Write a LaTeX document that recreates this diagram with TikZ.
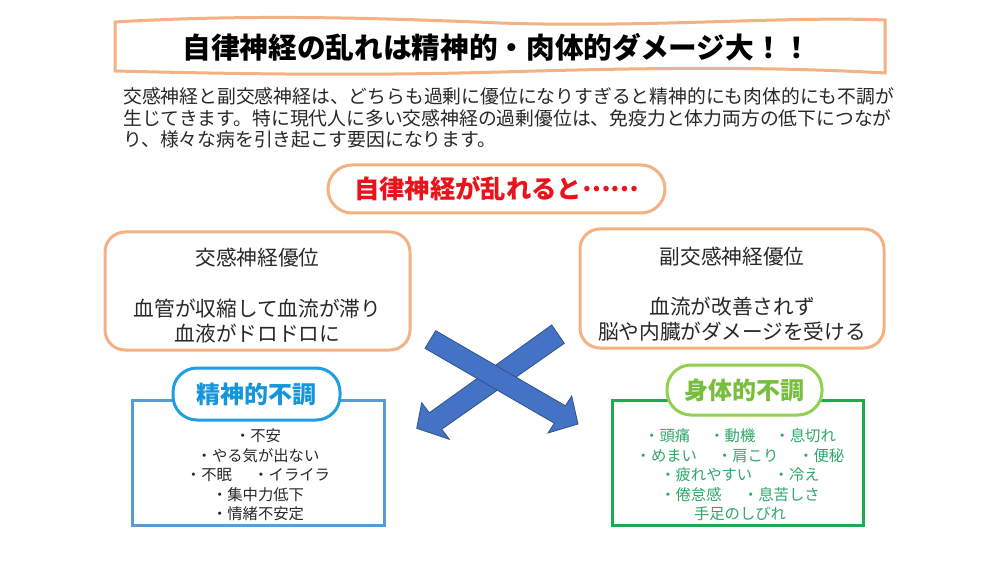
\documentclass[tikz,border=0pt]{standalone}
\usepackage{fontspec}
\setmainfont{Noto Sans CJK JP}
\usetikzlibrary{calc}
\definecolor{orangec}{RGB}{244,177,131}
\definecolor{arrowfill}{RGB}{68,114,196}
\definecolor{arrowline}{RGB}{47,82,143}
\definecolor{bluerect}{RGB}{91,155,213}
\definecolor{bluepill}{RGB}{29,160,226}
\definecolor{bluetext}{RGB}{20,150,220}
\definecolor{greenrect}{RGB}{30,170,80}
\definecolor{greenpill}{RGB}{146,208,80}
\definecolor{greenhead}{RGB}{120,190,60}
\definecolor{greentext}{RGB}{46,168,106}
\definecolor{redtext}{RGB}{232,20,27}
\definecolor{bodytext}{RGB}{40,40,40}
\begin{document}
\begin{tikzpicture}[x=0.75pt,y=-0.75pt,
  orangebox/.style={draw=orangec, line width=2.25pt, fill=white, rounded corners=15pt, align=center, inner sep=0pt},
  pill/.style={line width=2.25pt, fill=white, rounded corners=18pt, inner sep=0pt, font=\fontsize{18}{22}\selectfont\bfseries},
  listbox/.style={line width=2.25pt, fill=white, inner sep=0pt},
  bodyline/.style={anchor=base west, inner sep=0pt, text=bodytext, font=\fontsize{14.1}{16}\selectfont},
  itemtext/.style={align=center, inner sep=0pt, font=\fontsize{11.5}{14.6}\selectfont},
  bigarrow/.style={fill=arrowfill, draw=arrowline, line width=0.6pt, line join=miter}
]
\useasboundingbox (0,0) rectangle (1000,563);
\fill[white] (0,0) rectangle (1000,563);

% title banner
\draw[draw=orangec, line width=2.25pt, fill=white]
  (115,22) .. controls (250,14) and (380,18) .. (500,23)
  .. controls (650,28) and (780,16) .. (885,20) -- (885,73)
  .. controls (760,66) and (640,68) .. (500,72)
  .. controls (360,76) and (240,74) .. (115,71) -- cycle;
\node[inner sep=0pt, font=\fontsize{21.5}{24}\selectfont\bfseries] (title) at (497,47) {自律神経の乱れは精神的・肉体的ダメージ大！！};

% paragraph
\node[bodyline] (p1) at (123,104) {交感神経と副交感神経は、どちらも過剰に優位になりすぎると精神的にも肉体的にも不調が};
\node[bodyline] (p2) at (123,126) {生じてきます。特に現代人に多い交感神経の過剰優位は、免疫力と体力両方の低下につなが};
\node[bodyline] (p3) at (123,147) {り、様々な病を引き起こす要因になります。};

% red heading
\node[draw=orangec, line width=2.25pt, fill=white, rounded corners=18pt, minimum width=337*0.75pt, minimum height=48*0.75pt, inner sep=0pt, text=redtext, font=\fontsize{19}{22}\selectfont\bfseries] (head) at (496.5,189) {自律神経が乱れると\raisebox{0.3em}{……}};

% two orange boxes
\node[orangebox, minimum width=305*0.75pt, minimum height=118*0.75pt, font=\fontsize{15.5}{18.7}\selectfont, text=bodytext] (lbox) at (257.5,291) {\rule{0pt}{20.5pt}交感神経優位\\[19.5pt]血管が収縮して血流が滞り\\血液がドロドロに};
\node[orangebox, minimum width=304*0.75pt, minimum height=119*0.75pt, font=\fontsize{15.5}{18.7}\selectfont, text=bodytext] (rbox) at (732,288.5) {\rule{0pt}{21.5pt}副交感神経優位\\[18.7pt]血流が改善されず\\脳や内臓がダメージを受ける};

% crossing arrows
\draw[bigarrow] (551.7,325) -- (564.3,343.3) -- (441.7,429.2) -- (449.3,439.3) -- (416.7,428.3) -- (421.7,402.7) -- (429.3,412.8) -- cycle;
\draw[bigarrow] (435.7,330.7) -- (425,348.3) -- (554.3,423.2) -- (548,433) -- (578,424) -- (571.7,396) -- (565.4,405.8) -- cycle;

% mental box
\node[listbox, draw=bluerect, minimum width=252*0.75pt, minimum height=125*0.75pt] (mbox) at (258,462.5) {};
\node[pill, draw=bluepill, text=bluetext, minimum width=167*0.75pt, minimum height=52*0.75pt] (mpill) at (256.5,394) {精神的不調};
\node[itemtext, text=bodytext] (mlist) at (258,475) {・不安\\・やる気が出ない\\・不眠\hspace{1.4em}・イライラ\\・集中力低下\\・情緒不安定};

% physical box
\node[listbox, draw=greenrect, minimum width=251*0.75pt, minimum height=125*0.75pt] (pbox) at (737.5,462.5) {};
\node[pill, draw=greenpill, text=greenhead, minimum width=155*0.75pt, minimum height=50*0.75pt] (ppill) at (744.5,390) {身体的不調};
\node[itemtext, text=greentext] (plist) at (740,475) {・頭痛\hspace{1.25em}・動機\hspace{1.25em}・息切れ\\・めまい\hspace{1.3em}・肩こり\hspace{1.3em}・便秘\\・疲れやすい\hspace{1.4em}・冷え\\・倦怠感\hspace{1.4em}・息苦しさ\\手足のしびれ};
\end{tikzpicture}
\end{document}
